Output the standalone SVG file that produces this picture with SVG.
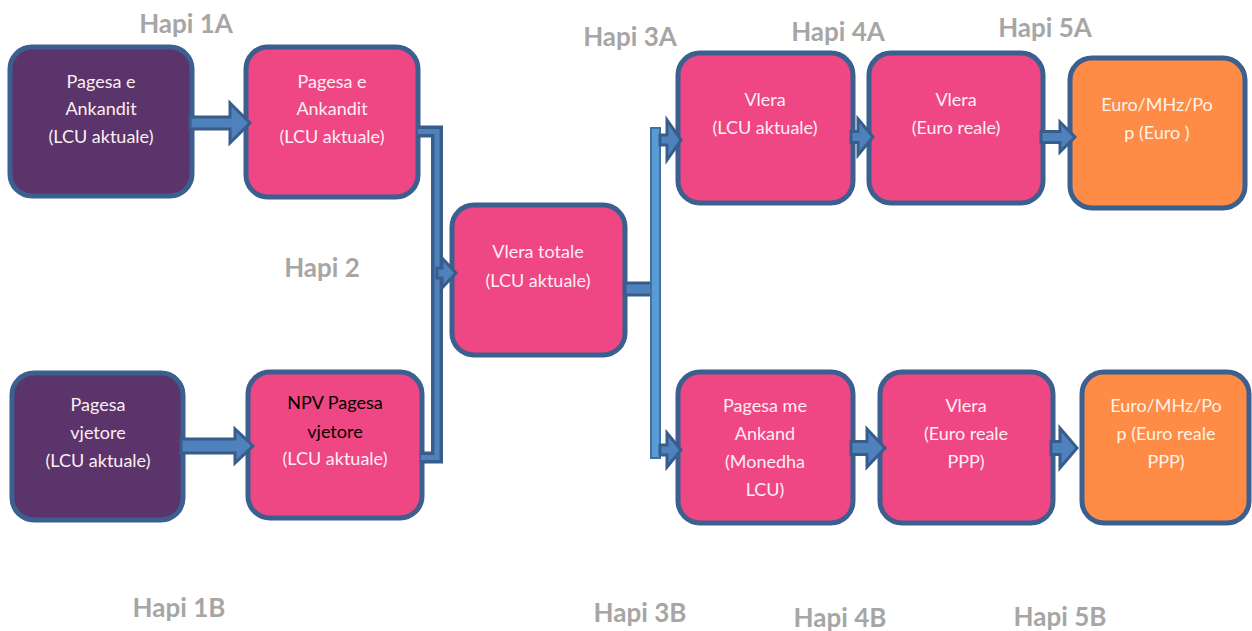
<svg xmlns="http://www.w3.org/2000/svg" width="1252" height="631" viewBox="0 0 1252 631">
<style>
.box{stroke:#3b5f8e;stroke-width:5}
.purple{fill:#5a346a}
.pink{fill:#ef4783}
.orange{fill:#fe8c46}
.t{font-family:Lato,"Open Sans","Liberation Sans",sans-serif;font-size:18px;text-anchor:middle;fill:#fdeef4}
.tk{fill:#000}
.to{fill:#fff2e6}
.step{font-family:Lato,"Open Sans","Liberation Sans",sans-serif;font-size:26px;font-weight:bold;fill:#a6a6a6;text-anchor:middle}
.arr{fill:#4f81bd;stroke:#385d8a;stroke-width:3;stroke-linejoin:miter}
</style>
<rect width="1252" height="631" fill="#fff"/>
<g id="labels">
<text class="step" x="186" y="33">Hapi 1A</text>
<text class="step" x="630" y="46">Hapi 3A</text>
<text class="step" x="838" y="41">Hapi 4A</text>
<text class="step" x="1045" y="37">Hapi 5A</text>
<text class="step" x="322" y="277">Hapi 2</text>
<text class="step" x="179" y="617">Hapi 1B</text>
<text class="step" x="640" y="622">Hapi 3B</text>
<text class="step" x="840" y="627">Hapi 4B</text>
<text class="step" x="1060" y="626">Hapi 5B</text>
</g>
<g id="n1"><rect class="box purple" x="10" y="47" width="182" height="149" rx="22"/>
<text class="t" x="101" y="88">Pagesa e</text><text class="t" x="101" y="115">Ankandit</text><text class="t" x="101" y="143">(LCU aktuale)</text></g>
<g id="n2"><rect class="box pink" x="246" y="47" width="172" height="150" rx="22"/>
<text class="t" x="332" y="88">Pagesa e</text><text class="t" x="332" y="115">Ankandit</text><text class="t" x="332" y="143">(LCU aktuale)</text></g>
<g id="n3"><rect class="box purple" x="12" y="373" width="171" height="147" rx="22"/>
<text class="t" x="98" y="411">Pagesa</text><text class="t" x="98" y="439">vjetore</text><text class="t" x="98" y="467">(LCU aktuale)</text></g>
<g id="n4"><rect class="box pink" x="248" y="372" width="174" height="146" rx="22"/>
<text class="t tk" x="335" y="409">NPV Pagesa</text><text class="t tk" x="335" y="438">vjetore</text><text class="t" x="335" y="465">(LCU aktuale)</text></g>
<g id="n5"><rect class="box pink" x="452" y="205" width="173" height="150" rx="22"/>
<text class="t" x="538" y="258">Vlera totale</text><text class="t" x="538" y="287">(LCU aktuale)</text></g>
<g id="a1"><rect class="box pink" x="678" y="53" width="175" height="150" rx="22"/>
<text class="t" x="765" y="106">Vlera</text><text class="t" x="765" y="134">(LCU aktuale)</text></g>
<g id="a2"><rect class="box pink" x="869" y="53" width="174" height="150" rx="22"/>
<text class="t" x="956" y="106">Vlera</text><text class="t" x="956" y="134">(Euro reale)</text></g>
<g id="a3"><rect class="box orange" x="1070" y="58" width="175" height="150" rx="22"/>
<text class="t to" x="1157" y="111">Euro/MHz/Po</text><text class="t to" x="1157" y="139">p (Euro )</text></g>
<g id="b1"><rect class="box pink" x="678" y="372" width="175" height="151" rx="22"/>
<text class="t" x="765" y="412">Pagesa me</text><text class="t" x="765" y="440">Ankand</text><text class="t" x="765" y="468">(Monedha</text><text class="t" x="765" y="496">LCU)</text></g>
<g id="b2"><rect class="box pink" x="880" y="372" width="173" height="151" rx="22"/>
<text class="t" x="966" y="412">Vlera</text><text class="t" x="966" y="440">(Euro reale</text><text class="t" x="966" y="468">PPP)</text></g>
<g id="b3"><rect class="box orange" x="1082" y="372" width="167" height="151" rx="22"/>
<text class="t to" x="1166" y="412">Euro/MHz/Po</text><text class="t to" x="1166" y="440">p (Euro reale</text><text class="t to" x="1166" y="468">PPP)</text></g>
<g id="connectors">
<polygon class="arr" points="190,117 230,117 230,103 250,123 230,143 230,129 190,129"/>
<polygon class="arr" points="181,439 235,439 235,429 253,446 235,463 235,453 181,453"/>
<path d="M418,131.5 H437 V457.5 H421" fill="none" stroke="#385d8a" stroke-width="12" stroke-linejoin="miter"/>
<path d="M418,131.5 H437 V457.5 H421" fill="none" stroke="#4f81bd" stroke-width="5" stroke-linejoin="miter"/>
<polygon class="arr" points="437,268 442,268 442,258 456,273 442,288 442,278 437,278"/>
<rect x="625" y="283" width="28" height="12" class="arr"/>
<rect x="651" y="128" width="9" height="330" fill="#5b9bd5" stroke="#41719c" stroke-width="2"/>
<polygon class="arr" points="660,135 667,135 667,120 681,140 667,160 667,145 660,145"/>
<polygon class="arr" points="660,445 667,445 667,433 681,450 667,467 667,455 660,455"/>
<polygon class="arr" points="851,131.5 858,131.5 858,119 873,137 858,155 858,142.5 851,142.5"/>
<polygon class="arr" points="1041,131.5 1060,131.5 1060,122 1075,137 1060,152 1060,142.5 1041,142.5"/>
<polygon class="arr" points="851,441.5 867,441.5 867,429 885,448 867,467 867,454.5 851,454.5"/>
<polygon class="arr" points="1051,441.5 1060,441.5 1060,428 1077,448 1060,468 1060,454.5 1051,454.5"/>
</g>
</svg>
